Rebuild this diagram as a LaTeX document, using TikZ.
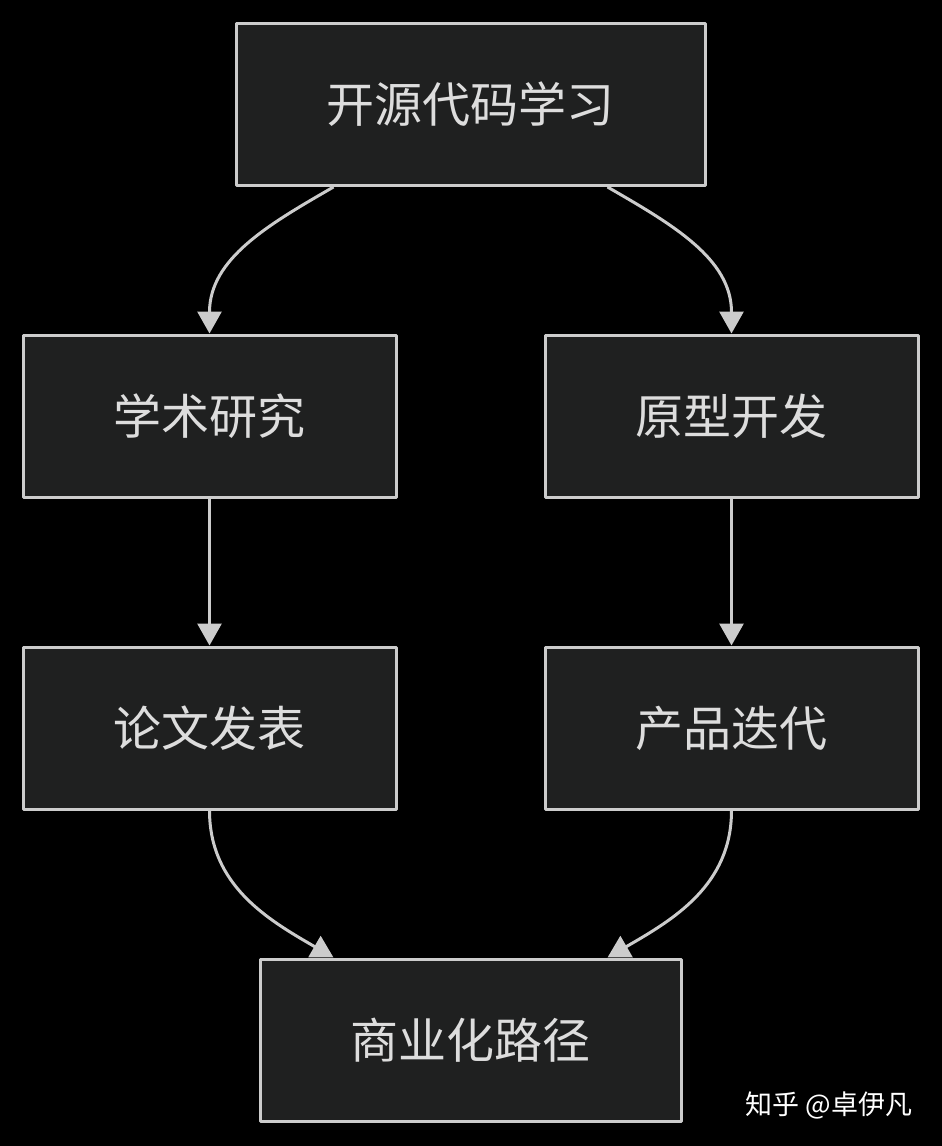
\documentclass[tikz,border=0pt]{standalone}
\usepackage{fontspec}
\setmainfont{Noto Sans CJK SC}
\usetikzlibrary{arrows.meta}
\definecolor{boxfill}{HTML}{1F2020}
\definecolor{linegray}{HTML}{CCCCCC}
\definecolor{textgray}{HTML}{DDDDDD}
\begin{document}
\begin{tikzpicture}[x=1pt,y=-1pt,line join=round,>={Triangle[width=24pt,length=22pt]},
	box/.style={draw=linegray,line width=3pt,fill=boxfill,text=textgray,font=\fontsize{48}{52}\selectfont,minimum height=162pt,inner sep=0pt},
	link/.style={draw=linegray,line width=3pt,->}]
	\fill[black] (0,0) rectangle (942,1146);
	\node[box,minimum width=469pt] (kyxx) at (470.5,104.5) {开源代码学习};
	\node[box,minimum width=373pt] (xsyj) at (209.5,416) {学术研究};
	\node[box,minimum width=373pt] (yxkf) at (731.5,416) {原型开发};
	\node[box,minimum width=373pt] (lwfb) at (209.5,728) {论文发表};
	\node[box,minimum width=373pt] (cpdd) at (731.5,728) {产品迭代};
	\node[box,minimum width=421pt] (syh) at (470.5,1040) {商业化路径};
	\coordinate (kl) at ([xshift=99pt]kyxx.south west);
	\coordinate (kr) at ([xshift=-99pt]kyxx.south east);
	\coordinate (sl) at ([xshift=75pt]syh.north west);
	\coordinate (sr) at ([xshift=-75pt]syh.north east);
	\draw[link] (kl) to[out=210,in=90] (xsyj.north);
	\draw[link] (kr) to[out=-30,in=90] (yxkf.north);
	\draw[link] (xsyj) -- (lwfb);
	\draw[link] (yxkf) -- (cpdd);
	\draw[link] (lwfb.south) to[out=-90,in=150] (sl);
	\draw[link] (cpdd.south) to[out=-90,in=30] (sr);
	\node[text=white,font=\fontsize{27}{31}\selectfont] (zh) at (829,1105) {知乎 @卓伊凡};
\end{tikzpicture}
\end{document}
